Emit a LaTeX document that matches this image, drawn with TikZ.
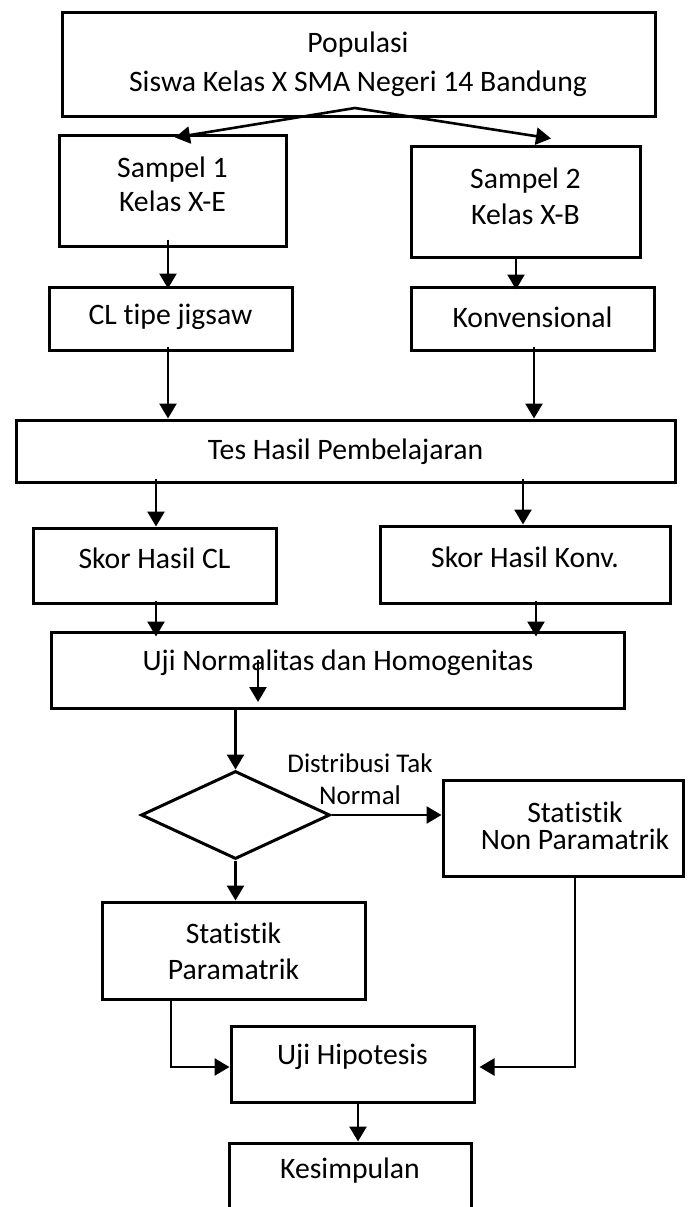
\documentclass[tikz,border=0pt]{standalone}
\usepackage{fontspec}
\setmainfont{Carlito}[Ligatures=NoCommon]
\usetikzlibrary{shapes.geometric,arrows.meta,calc}

\begin{document}
\begin{tikzpicture}[x=1pt,y=-1pt,
    box/.style={draw, line width=3pt, inner sep=0pt},
    arr/.style={-{Triangle[length=15pt,width=17pt]}, line width=2.6pt},
    lbl/.style={align=center, inner sep=0pt, font=\fontsize{29.7}{36}\selectfont}]
  \clip (0,0) rectangle (696,1207);

  % Populasi
  \node[box, minimum width=593pt, minimum height=103pt] (pop) at (358.5,64.5) {};
  \node[lbl, font=\fontsize{29.7}{39}\selectfont] (popt) at (358,64) {Populasi\\Siswa Kelas X SMA Negeri 14 Bandung};

  % Sampel
  \node[box, minimum width=227pt, minimum height=111pt] (s1) at (172.5,190.5) {};
  \node[lbl, font=\fontsize{29.7}{34}\selectfont] (s1t) at (172.5,184) {Sampel 1\\Kelas X-E};
  \node[box, minimum width=229pt, minimum height=111pt] (s2) at (525.5,201.5) {};
  \node[lbl] (s2t) at (525.5,196) {Sampel 2\\Kelas X-B};

  % Perlakuan
  \node[box, minimum width=243pt, minimum height=63pt] (cl) at (170.5,318.5) {};
  \node[lbl] (clt) at (170.5,317) {CL tipe jigsaw};
  \node[box, minimum width=243pt, minimum height=63pt] (konv) at (532.5,318.5) {};
  \node[lbl] (konvt) at (532.5,317) {Konvensional};

  % Tes
  \node[box, minimum width=659pt, minimum height=62pt] (tes) at (345.5,451) {};
  \node[lbl] (test) at (345.5,452) {Tes Hasil Pembelajaran};

  % Skor
  \node[box, minimum width=243pt, minimum height=75pt] (skcl) at (154.5,565.5) {};
  \node[lbl] (skclt) at (154.5,558) {Skor Hasil CL};
  \node[box, minimum width=290pt, minimum height=77pt] (skkonv) at (525,564.5) {};
  \node[lbl] (skkonvt) at (525,557) {Skor Hasil Konv.};

  % Uji prasyarat
  \node[box, minimum width=573pt, minimum height=76pt] (un) at (337.5,670) {};
  \node[lbl] (unt) at (338,663) {Uji Normalitas dan Homogenitas};

  % Keputusan
  \node[box, diamond, minimum width=189pt, minimum height=88pt] (dec) at (235.5,815) {};
  \node[lbl, font=\fontsize{27}{32}\selectfont] (dect) at (360,779) {Distribusi Tak\\Normal};

  % Statistik
  \node[box, minimum width=240pt, minimum height=96pt] (np) at (563,828) {};
  \node[lbl, font=\fontsize{29.7}{27}\selectfont] (npt) at (575,826) {Statistik\\Non Paramatrik};
  \node[box, minimum width=263pt, minimum height=97pt] (sp) at (233.5,950.5) {};
  \node[lbl] (spt) at (233.5,951) {Statistik\\Paramatrik};

  % Hipotesis dan kesimpulan
  \node[box, minimum width=243pt, minimum height=76pt] (uh) at (352.5,1064) {};
  \node[lbl] (uht) at (352.5,1057) {Uji Hipotesis};
  \node[box, minimum width=242pt, minimum height=120pt] (kes) at (350,1203) {};
  \node[lbl] (kest) at (350,1171) {Kesimpulan};

  % Arrows
  \coordinate (apex) at (355,108);
  \draw[arr] (apex) -- ([shift={(2.5,4)}]s1.north);
  \draw[arr] (apex) -- ([shift={(25.5,-6)}]s2.north);
  \draw[arr] ([shift={(-4.5,-8)}]s1.south) -- ([shift={(-4.5,3)}]s1.south |- cl.north);
  \draw[arr] ([shift={(-9.5,0)}]s2.south) -- ([shift={(-9.5,4)}]s2.south |- konv.north);
  \coordinate (cla) at ([shift={(-2.5,-5)}]cl.south);
  \coordinate (konva) at ([shift={(1.5,-5)}]konv.south);
  \draw[arr] (cla) -- (cla |- tes.north);
  \draw[arr] (konva) -- (konva |- tes.north);
  \coordinate (tesa) at ([shift={(-189.5,-5)}]tes.south);
  \coordinate (tesb) at ([shift={(177.5,-5)}]tes.south);
  \draw[arr] (tesa) -- (tesa |- skcl.north);
  \draw[arr] (tesb) -- (tesb |- skkonv.north);
  \coordinate (skcla) at ([shift={(1.5,-4)}]skcl.south);
  \coordinate (skkonva) at ([shift={(11,-4)}]skkonv.south);
  \draw[arr] (skcla) -- ([yshift=-6pt]skcla |- un.north);
  \draw[arr] (skkonva) -- ([yshift=-6pt]skkonva |- un.north);
  \coordinate (una) at (258,660);
  \draw[arr] (una) -- ++(0,42);
  \draw[arr] (dec.north |- un.south) -- (dec.north);
  \draw[arr] (dec.east) -- (dec.east -| np.west);
  \draw[arr] (dec.south) -- (dec.south |- sp.north);
  \draw[arr] ([xshift=-62.5pt]sp.south) |- ([yshift=-3pt]uh.west);
  \draw[arr] ([xshift=12pt]np.south) |- ([shift={(4,3)}]uh.east);
  \draw[arr] ([xshift=5.5pt]uh.south) -- ([xshift=5.5pt]uh.south |- kes.north);
\end{tikzpicture}
\end{document}
